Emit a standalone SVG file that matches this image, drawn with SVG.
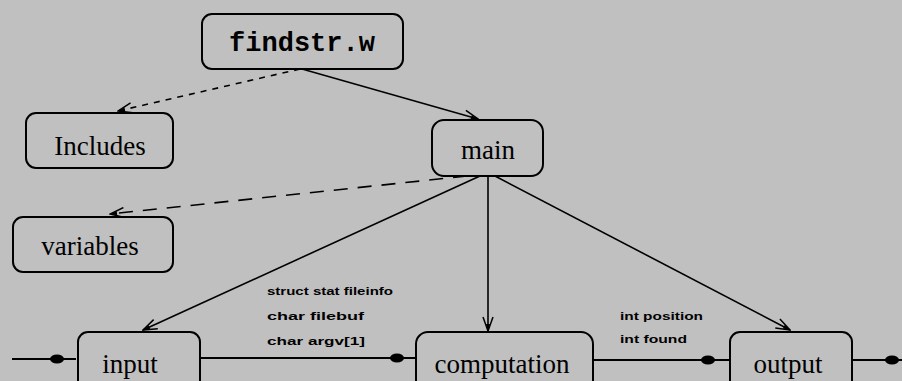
<svg xmlns="http://www.w3.org/2000/svg" width="902" height="381" viewBox="0 0 902 381">
  <style>
    .bg { fill: #c0c0c0; }
    .box { fill: none; stroke: #000; stroke-width: 2; }
    .lbl { font-family: "Liberation Serif", serif; font-size: 27px; fill: #000; text-anchor: middle; }
    .mono { font-family: "Liberation Mono", monospace; font-size: 27px; font-weight: bold; fill: #000; text-anchor: middle; }
    .note { font-family: "Liberation Sans", sans-serif; font-size: 11px; font-weight: bold; fill: #000; }
    .edge { fill: none; stroke: #000; stroke-width: 1.6; }
    .dash { stroke-dasharray: 6 6; }
    .longdash { stroke-dasharray: 14 10; }
    .flow { fill: none; stroke: #000; stroke-width: 2; }
    .blob { fill: #000; }
  </style>
  <defs>
    <marker id="arrow" viewBox="0 0 16 12" refX="15" refY="6" markerWidth="16" markerHeight="12" markerUnits="userSpaceOnUse" orient="auto">
      <path d="M1,1 L15,6 L1,11" fill="none" stroke="#000" stroke-width="1.5"/>
      <path d="M8,4 L15,6 L8,8 Z" fill="#000"/>
    </marker>
  </defs>

  <rect class="bg" x="0" y="0" width="902" height="381"/>

  <g id="connectors">
    <line class="edge dash" x1="300" y1="69" x2="118" y2="111" marker-end="url(#arrow)"/>
    <line class="edge" x1="302" y1="69" x2="478" y2="119" marker-end="url(#arrow)"/>
    <line class="edge longdash" x1="467" y1="176" x2="110" y2="214" marker-end="url(#arrow)"/>
    <line class="edge" x1="480" y1="176" x2="143" y2="330" marker-end="url(#arrow)"/>
    <line class="edge" x1="488" y1="176" x2="488" y2="331" marker-end="url(#arrow)"/>
    <line class="edge" x1="495" y1="176" x2="790" y2="330" marker-end="url(#arrow)"/>

    <line class="flow" x1="12" y1="359" x2="76" y2="359"/>
    <ellipse class="blob" cx="57" cy="359" rx="7" ry="4.5"/>
    <line class="flow" x1="200" y1="358" x2="415" y2="358"/>
    <ellipse class="blob" cx="397" cy="358" rx="7" ry="4.5"/>
    <line class="flow" x1="594" y1="360" x2="730" y2="360"/>
    <ellipse class="blob" cx="708" cy="360" rx="7" ry="4.5"/>
    <line class="flow" x1="852" y1="360" x2="902" y2="360"/>
    <ellipse class="blob" cx="892" cy="360" rx="7" ry="4.5"/>

    <text class="note" x="267" y="295" textLength="126" lengthAdjust="spacingAndGlyphs">struct stat fileinfo</text>
    <text class="note" x="267" y="320" textLength="97" lengthAdjust="spacingAndGlyphs">char filebuf</text>
    <text class="note" x="267" y="345" textLength="98" lengthAdjust="spacingAndGlyphs">char argv[1]</text>
    <text class="note" x="620" y="320" textLength="83" lengthAdjust="spacingAndGlyphs">int position</text>
    <text class="note" x="620" y="343" textLength="67" lengthAdjust="spacingAndGlyphs">int found</text>
  </g>

  <g id="findstr">
    <rect class="box" x="202" y="14" width="201" height="55" rx="10"/>
    <text class="mono" x="302" y="51">findstr.w</text>
  </g>
  <g id="includes">
    <rect class="box" x="26" y="113" width="147" height="55" rx="10"/>
    <text class="lbl" x="100" y="155">Includes</text>
  </g>
  <g id="main">
    <rect class="box" x="432" y="120" width="111" height="56" rx="12"/>
    <text class="lbl" x="488" y="159">main</text>
  </g>
  <g id="variables">
    <rect class="box" x="13" y="217" width="160" height="55" rx="10"/>
    <text class="lbl" x="90" y="255">variables</text>
  </g>
  <g id="input">
    <rect class="box" x="78" y="332" width="122" height="60" rx="10"/>
    <text class="lbl" x="130" y="373">input</text>
  </g>
  <g id="computation">
    <rect class="box" x="416" y="332" width="177" height="60" rx="12"/>
    <text class="lbl" x="502" y="373">computation</text>
  </g>
  <g id="output">
    <rect class="box" x="730" y="332" width="122" height="60" rx="10"/>
    <text class="lbl" x="788" y="373">output</text>
  </g>
</svg>
